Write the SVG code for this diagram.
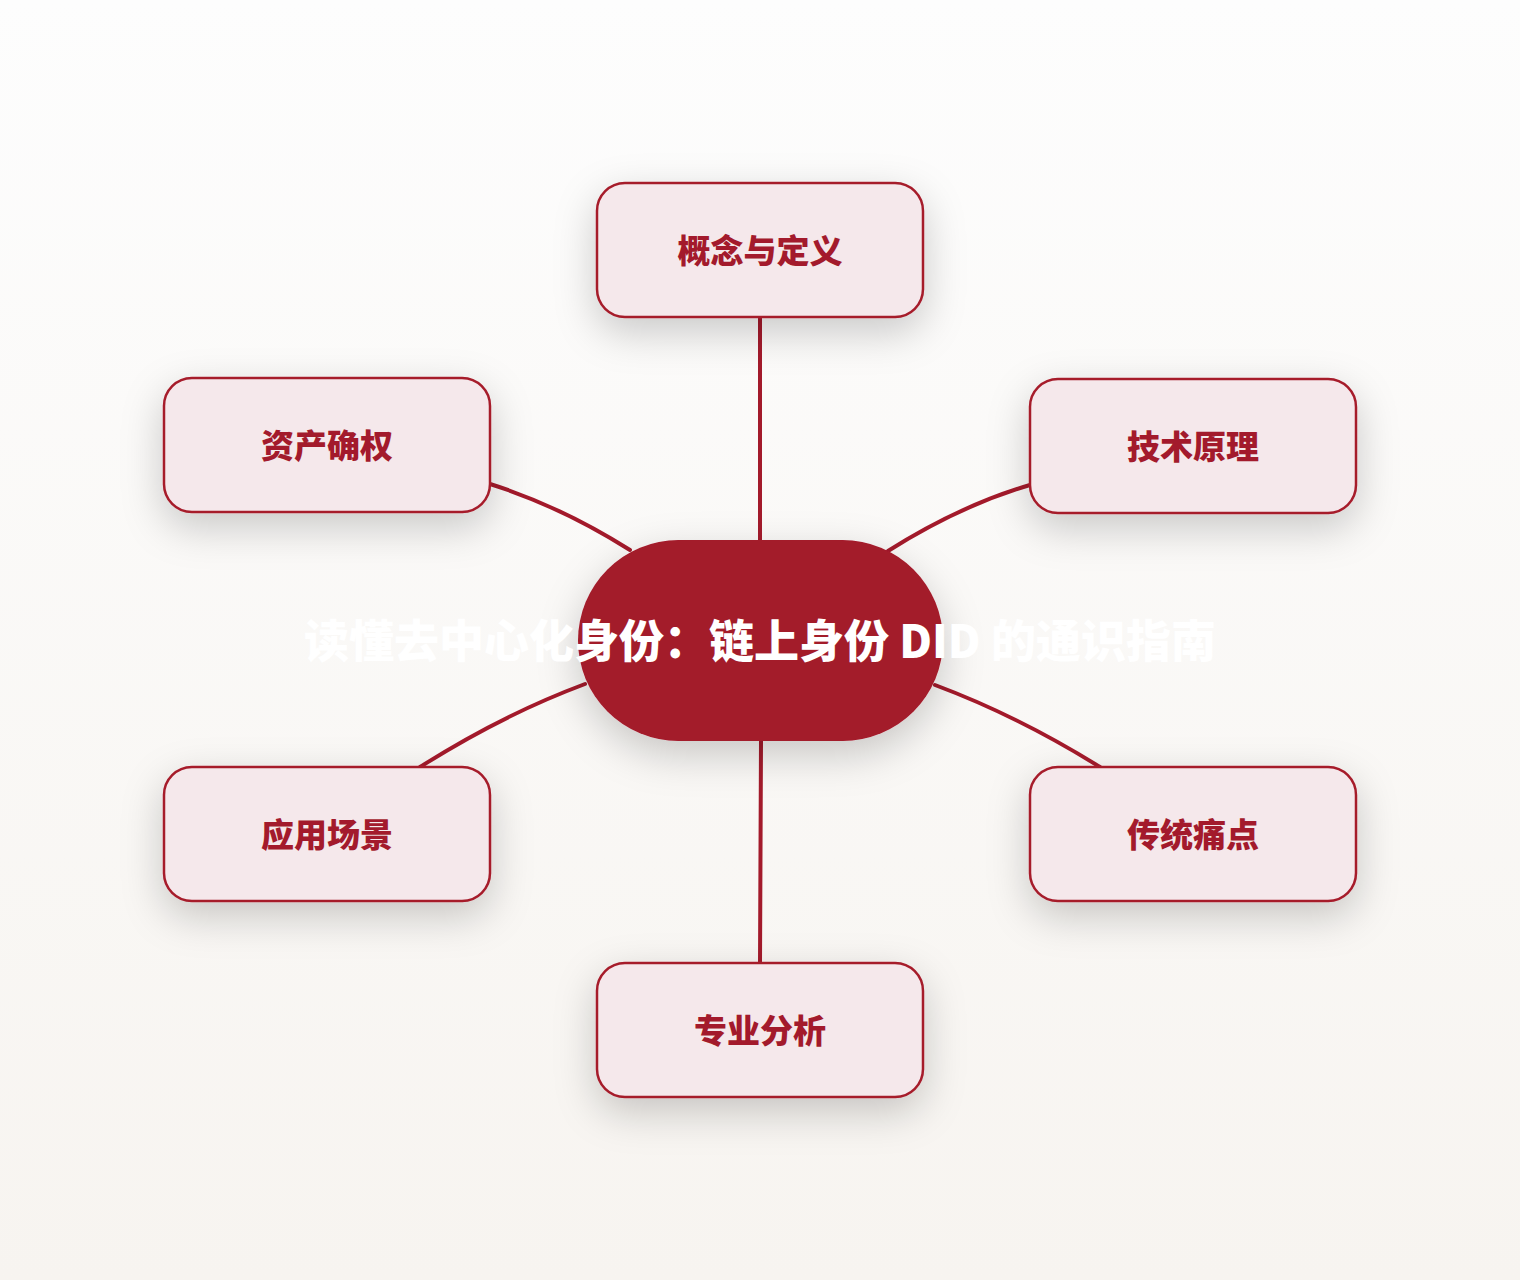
<svg xmlns="http://www.w3.org/2000/svg" width="1520" height="1280" viewBox="0 0 1520 1280">
<defs>
<linearGradient id="bg" x1="0" y1="0" x2="0" y2="1">
<stop offset="0" stop-color="#fdfdfd"/>
<stop offset="1" stop-color="#f7f4f0"/>
</linearGradient>
<filter id="sh" x="-40%" y="-60%" width="180%" height="230%">
<feDropShadow dx="0" dy="14" stdDeviation="20" flood-color="#000" flood-opacity="0.2"/>
</filter>
<style>
.node rect{fill:#f5e8eb;stroke:#a61c2c;stroke-width:2.5}
.node text{font-family:"Noto Sans CJK SC","Noto Sans",sans-serif;font-weight:900;font-size:33px;fill:#a31a2c;text-anchor:middle}
.conn path{fill:none;stroke:#a31a2b;stroke-width:4;stroke-linecap:round}
.center rect{fill:#a31a2a}
.center text{font-family:"Noto Sans CJK SC","Noto Sans",sans-serif;font-weight:900;font-size:45px;fill:#ffffff;text-anchor:middle}
</style>
</defs>
<rect width="1520" height="1280" fill="url(#bg)"/>
<g id="connectors" class="conn">
<path d="M760,317 L760,540"/>
<path d="M761,741 L760,963"/>
<path d="M490,484 Q560,506 630,550"/>
<path d="M1030,485 Q959,506 888,551"/>
<path d="M585,684 Q502,715 420,767"/>
<path d="M935,685 Q1018,716 1100,767"/>
</g>
<g id="center" class="center">
<rect x="578" y="540" width="365" height="201" rx="100.5" filter="url(#sh)"/>
<text x="760" y="658">读懂去中心化身份：链上身份 DID 的通识指南</text>
</g>
<g id="n1" class="node">
<rect x="597" y="183" width="326" height="134" rx="28" filter="url(#sh)"/>
<text x="760" y="263">概念与定义</text>
</g>
<g id="n2" class="node">
<rect x="1030" y="379" width="326" height="134" rx="28" filter="url(#sh)"/>
<text x="1193" y="459">技术原理</text>
</g>
<g id="n3" class="node">
<rect x="1030" y="767" width="326" height="134" rx="28" filter="url(#sh)"/>
<text x="1193" y="847">传统痛点</text>
</g>
<g id="n4" class="node">
<rect x="597" y="963" width="326" height="134" rx="28" filter="url(#sh)"/>
<text x="760" y="1043">专业分析</text>
</g>
<g id="n5" class="node">
<rect x="164" y="767" width="326" height="134" rx="28" filter="url(#sh)"/>
<text x="327" y="847">应用场景</text>
</g>
<g id="n6" class="node">
<rect x="164" y="378" width="326" height="134" rx="28" filter="url(#sh)"/>
<text x="327" y="458">资产确权</text>
</g>
</svg>
